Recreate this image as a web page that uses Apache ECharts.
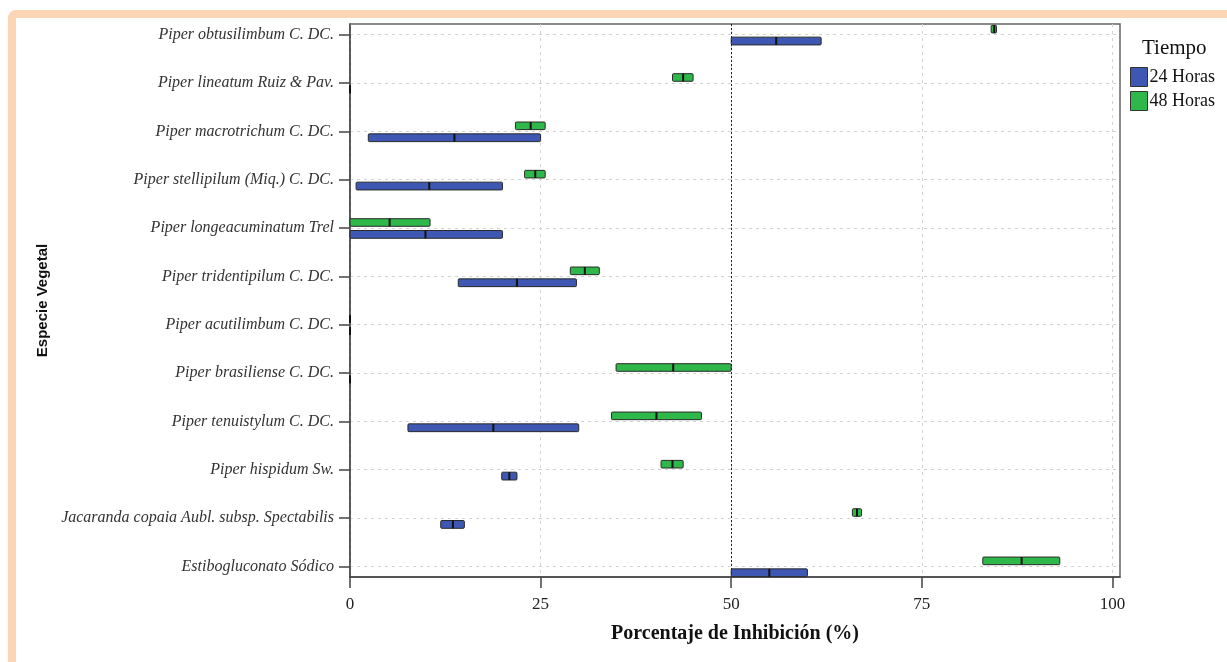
<!DOCTYPE html>
<html>
<head>
<meta charset="utf-8">
<script src="https://cdn.jsdelivr.net/npm/echarts@6/dist/echarts.min.js"></script>
<style>
  html, body { margin: 0; padding: 0; background: #fff; }
  #wrap { position: relative; width: 1227px; height: 662px; overflow: hidden; }
  #card { position: absolute; left: 8px; top: 10px; width: 1300px; height: 720px;
          border: 8px solid #fcd5b4; border-radius: 8px; box-sizing: border-box; }
  #chart { position: absolute; left: 0; top: 0; width: 1227px; height: 662px; }
</style>
</head>
<body>
<div id="wrap">
  <div id="card"></div>
  <div id="chart"></div>
</div>
<script>
// especies (de arriba hacia abajo)
const species = [
  'Piper obtusilimbum C. DC.',
  'Piper lineatum Ruiz & Pav.',
  'Piper macrotrichum C. DC.',
  'Piper stellipilum (Miq.) C. DC.',
  'Piper longeacuminatum Trel',
  'Piper tridentipilum C. DC.',
  'Piper acutilimbum C. DC.',
  'Piper brasiliense C. DC.',
  'Piper tenuistylum C. DC.',
  'Piper hispidum Sw.',
  'Jacaranda copaia Aubl. subsp. Spectabilis',
  'Estibogluconato Sódico'
];

// 24 horas: minimo, mediana, maximo
const h24Low  = [50.0, 0, 2.4, 0.8, 0, 14.2, 0, 0, 7.6, 19.9, 11.9, 50.0];
const h24Med  = [55.9, 0, 13.7, 10.4, 9.9, 21.9, 0, 0, 18.8, 20.9, 13.5, 55.0];
const h24High = [61.8, 0, 25.0, 20.0, 20.0, 29.7, 0, 0, 30.0, 21.9, 15.0, 60.0];

// 48 horas
const h48Low  = [84.1, 42.3, 21.7, 22.9, 0, 28.9, 0, 34.9, 34.3, 40.8, 65.9, 83.0];
const h48Med  = [84.5, 43.7, 23.7, 24.3, 5.2, 30.8, 0, 42.4, 40.2, 42.3, 66.5, 88.1];
const h48High = [84.8, 45.0, 25.6, 25.6, 10.5, 32.7, 0, 50.0, 46.1, 43.7, 67.1, 93.1];

const xTicks = [0, 25, 50, 75, 100];
const catIdx = species.map((s, i) => i);

function rows(lo, med, hi) {
    return species.map((s, i) => [i, lo[i], med[i], hi[i]]);
}

// barra horizontal con mediana; dy0/dy1 = desplazamiento respecto a la linea de la especie
function boxRender(dy0, dy1) {
    return function (params, api) {
        const cat = api.value(0);
        const a = api.coord([api.value(1), cat]);
        const m = api.coord([api.value(2), cat]);
        const b = api.coord([api.value(3), cat]);
        const y0 = a[1] + dy0;
        const h = dy1 - dy0;
        return {
            type: 'group',
            children: [
                {
                    type: 'rect',
                    shape: { x: a[0], y: y0, width: b[0] - a[0], height: h, r: 1 },
                    style: { fill: api.visual('color'), stroke: '#2a2a2a', lineWidth: 1 }
                },
                {
                    type: 'line',
                    shape: { x1: m[0], y1: y0, x2: m[0], y2: y0 + h },
                    style: { stroke: '#111', lineWidth: 2 }
                }
            ]
        };
    };
}

const chart = echarts.init(document.getElementById('chart'));

const gridLine = { show: true, lineStyle: { color: '#d2d2d2', type: [3, 4], width: 1 } };

chart.setOption({
    animation: false,
    title: {
        text: 'Tiempo',
        left: 1137, top: 33,
        textStyle: { fontFamily: 'Liberation Serif', fontSize: 21, fontWeight: 'normal', color: '#111' }
    },
    legend: {
        orient: 'vertical',
        left: 1125, top: 62,
        itemWidth: 17, itemHeight: 19, itemGap: 4,
        icon: 'rect',
        itemStyle: { borderColor: '#333', borderWidth: 1 },
        textStyle: { fontFamily: 'Liberation Serif', fontSize: 18, color: '#111', padding: [0, 0, 0, -3] },
        data: ['24 Horas', '48 Horas']
    },
    grid: {
        left: 350, right: 107, top: 24, bottom: 85,
        show: true, borderColor: '#666', borderWidth: 1.5
    },
    xAxis: {
        type: 'value',
        min: 0, max: 101, interval: 25,
        name: 'Porcentaje de Inhibición (%)',
        nameLocation: 'middle', nameGap: 47,
        nameTextStyle: { fontFamily: 'Liberation Serif', fontSize: 20, fontWeight: 'bold', color: '#111' },
        axisLine: { show: true, onZero: false, lineStyle: { color: '#444', width: 1.5 } },
        axisTick: { show: true, length: 11, customValues: xTicks, lineStyle: { color: '#444', width: 1.5 } },
        axisLabel: { customValues: xTicks, margin: 19, fontFamily: 'Liberation Serif', fontSize: 17, color: '#222' },
        splitLine: gridLine
    },
    yAxis: {
        type: 'value',
        inverse: true,
        min: -0.22, max: 11.22,
        name: 'Especie Vegetal',
        nameLocation: 'middle', nameGap: 297, nameRotate: 90,
        nameTextStyle: { fontFamily: 'Liberation Sans', fontSize: 15, fontWeight: 'bold', color: '#111' },
        axisLine: { show: true, onZero: false, lineStyle: { color: '#444', width: 1.5 } },
        axisTick: { show: true, length: 11, customValues: catIdx, lineStyle: { color: '#444', width: 1.5 } },
        axisLabel: {
            customValues: catIdx, margin: 16,
            fontFamily: 'Liberation Serif', fontStyle: 'italic', fontSize: 16, color: '#333',
            formatter: v => species[Math.round(v)]
        },
        splitLine: gridLine
    },
    series: [
        {
            name: '24 Horas',
            type: 'custom',
            clip: false,
            itemStyle: { color: '#3d57b2' },
            encode: { x: [1, 2, 3], y: 0 },
            renderItem: boxRender(2.5, 10.3),
            data: rows(h24Low, h24Med, h24High),
            markLine: {
                silent: true, symbol: 'none', label: { show: false },
                lineStyle: { color: '#222', type: [2, 2], width: 1 },
                data: [{ xAxis: 50 }]
            }
        },
        {
            name: '48 Horas',
            type: 'custom',
            clip: false,
            itemStyle: { color: '#2fb84a' },
            encode: { x: [1, 2, 3], y: 0 },
            renderItem: boxRender(-9.3, -1.7),
            data: rows(h48Low, h48Med, h48High)
        }
    ]
});
</script>
</body>
</html>
